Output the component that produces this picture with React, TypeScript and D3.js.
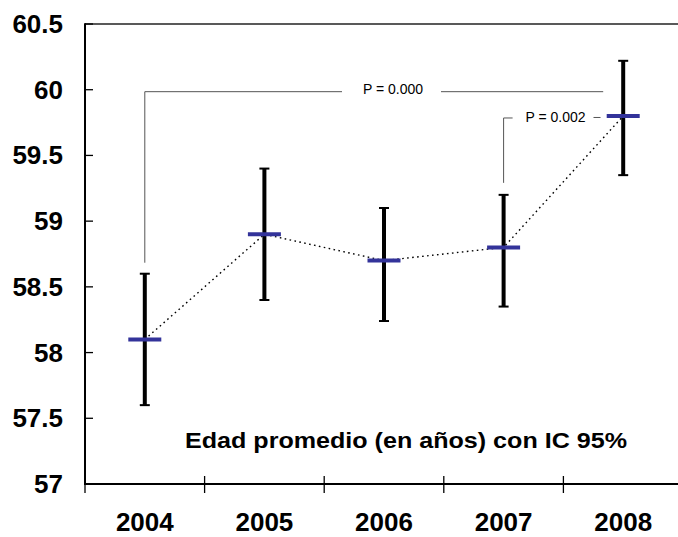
import React from "react";
import * as d3 from "d3";

const years = ["2004", "2005", "2006", "2007", "2008"];
const means = [58.1, 58.9, 58.7, 58.8, 59.8];
const ciLow = [57.6, 58.4, 58.24, 58.35, 59.35];
const ciHigh = [58.6, 59.4, 59.1, 59.2, 60.22];
const yTicks = [57, 57.5, 58, 58.5, 59, 59.5, 60, 60.5];
const title = "Edad promedio (en años) con IC 95%";

// P-value brackets: from year, to year, label, level (years of age)
const bracketFrom = ["2004", "2007"];
const bracketTo = ["2008", "2008"];
const bracketLabels = ["P = 0.000", "P = 0.002"];
const bracketLevels = [59.985, 59.785];

const W = 678;
const H = 537;
const FONT = "'Liberation Sans', Arial, Helvetica, sans-serif";

export default function App() {
  const x = d3.scaleBand<string>().domain(years).range([85, 683]).padding(0);
  const y = d3.scaleLinear().domain([57, 60.5]).range([484, 24]);
  const cx = (yr: string) => (x(yr) as number) + x.bandwidth() / 2;

  const line = d3
    .line<number>()
    .x((_, i) => cx(years[i]))
    .y((d) => y(d));

  const boundaries = years.map((yr) => x(yr) as number);

  // Bracket 1 geometry (long)
  const b1x0 = cx(bracketFrom[0]);
  const b1x1 = cx(bracketTo[0]) - 20;
  const b1y = y(bracketLevels[0]);
  const b1TextC = 393;
  const b1Bottom = y(ciHigh[years.indexOf(bracketFrom[0])]) - 11;

  // Bracket 2 geometry (short)
  const b2x0 = cx(bracketFrom[1]);
  const b2y = y(bracketLevels[1]);
  const b2TextC = 555.5;
  const b2Bottom = y(ciHigh[years.indexOf(bracketFrom[1])]) - 12;

  return (
    <svg
      width={W}
      height={H}
      style={{ position: "absolute", left: 0, top: 0, background: "#fff" }}
      fontFamily={FONT}
    >
      <rect x={0} y={0} width={W} height={H} fill="#fff" />

      {/* top border */}
      <line x1={85} x2={683} y1={y(60.5)} y2={y(60.5)} stroke="#222" strokeWidth={1.4} />

      {/* y axis */}
      <line x1={85} x2={85} y1={y(60.5) - 0.7} y2={y(57) + 1} stroke="#000" strokeWidth={2} />
      {yTicks.map((t) => (
        <g key={t}>
          <line x1={85} x2={93} y1={y(t)} y2={y(t)} stroke="#000" strokeWidth={1.3} />
          <text
            x={63}
            y={y(t)}
            textAnchor="end"
            dominantBaseline="central"
            fontSize={26}
            fontWeight="bold"
            fill="#000"
          >
            {t}
          </text>
        </g>
      ))}

      {/* x axis */}
      <line x1={84} x2={683} y1={y(57)} y2={y(57)} stroke="#000" strokeWidth={2} />
      {boundaries.map((b, i) => (
        <line
          key={i}
          x1={b}
          x2={b}
          y1={i === 0 ? y(57) : y(57) - 8}
          y2={y(57) + 9}
          stroke="#000"
          strokeWidth={1.3}
        />
      ))}
      {years.map((yr) => (
        <text
          key={yr}
          x={cx(yr)}
          y={531}
          textAnchor="middle"
          fontSize={26}
          fontWeight="bold"
          fill="#000"
        >
          {yr}
        </text>
      ))}

      {/* P-value brackets */}
      <g stroke="#555" strokeWidth={1} fill="none">
        <line x1={b1x0} x2={b1x0} y1={b1y} y2={b1Bottom} />
        <line x1={b1x0} x2={b1TextC - 51} y1={b1y} y2={b1y} />
        <line x1={b1TextC + 48} x2={b1x1} y1={b1y} y2={b1y} />
        <line x1={b2x0} x2={b2x0} y1={b2y} y2={b2Bottom} />
        <line x1={b2x0} x2={b2x0 + 9} y1={b2y} y2={b2y} />
        <line x1={b2TextC + 38} x2={b2TextC + 45} y1={b2y - 0.5} y2={b2y - 0.5} />
      </g>
      <text x={b1TextC} y={b1y + 2} textAnchor="middle" fontSize={14} fill="#000">
        {bracketLabels[0]}
      </text>
      <text x={b2TextC} y={b2y + 4} textAnchor="middle" fontSize={14} fill="#000">
        {bracketLabels[1]}
      </text>

      {/* connecting dotted line */}
      <path
        d={line(means) || ""}
        fill="none"
        stroke="#000"
        strokeWidth={1.4}
        strokeDasharray="1.6 3.4"
      />

      {/* error bars */}
      {years.map((yr, i) => (
        <g key={yr}>
          <line x1={cx(yr)} x2={cx(yr)} y1={y(ciHigh[i])} y2={y(ciLow[i])} stroke="#000" strokeWidth={4} />
          <line x1={cx(yr) - 5} x2={cx(yr) + 5} y1={y(ciHigh[i])} y2={y(ciHigh[i])} stroke="#000" strokeWidth={2} />
          <line x1={cx(yr) - 5} x2={cx(yr) + 5} y1={y(ciLow[i])} y2={y(ciLow[i])} stroke="#000" strokeWidth={2} />
        </g>
      ))}

      {/* mean markers */}
      {years.map((yr, i) => (
        <line
          key={yr}
          x1={cx(yr) - 16.5}
          x2={cx(yr) + 16.5}
          y1={y(means[i])}
          y2={y(means[i])}
          stroke="#33339a"
          strokeWidth={4}
        />
      ))}

      {/* title */}
      <text
        x={185}
        y={448}
        textAnchor="start"
        fontSize={22}
        fontWeight="bold"
        fill="#000"
        textLength={442}
        lengthAdjust="spacingAndGlyphs"
      >
        {title}
      </text>
    </svg>
  );
}
